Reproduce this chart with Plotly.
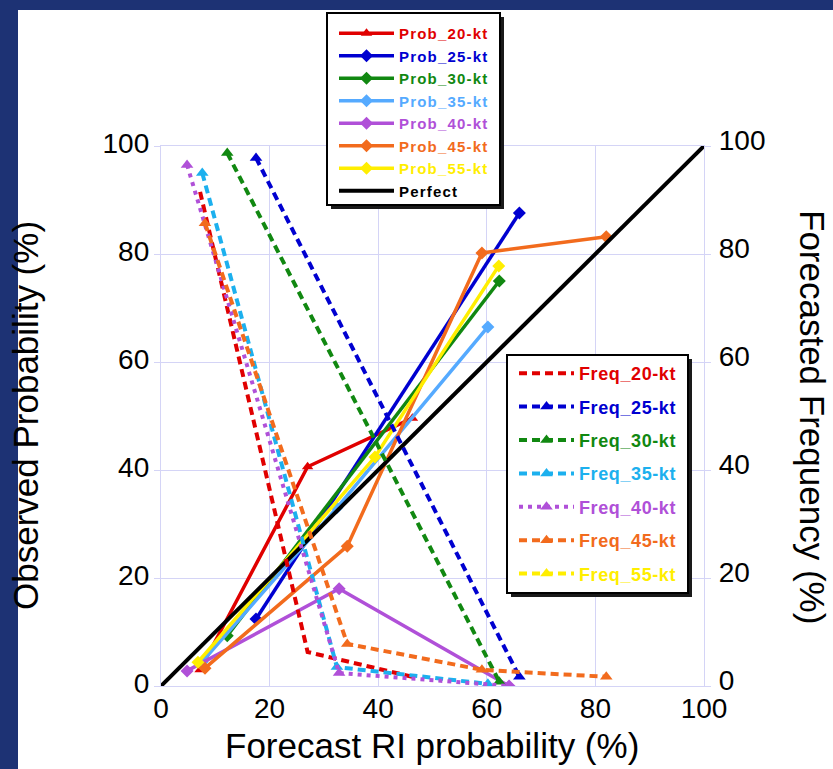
import plotly.graph_objects as go

# ---------------- data ----------------
x20 = [7.2, 27.0, 46.3]
prob20 = [3.0, 40.6, 49.6]
freq20 = [91.5, 6.3, 1.7]

x25 = [17.5, 66.0]
prob25 = [12.4, 87.6]
freq25 = [97.8, 1.7]

x30 = [12.2, 62.3]
prob30 = [9.3, 75.0]
freq30 = [98.7, 0.8]

x35 = [7.6, 32.4, 60.2]
prob35 = [4.5, 33.0, 66.5]
freq35 = [95.0, 3.5, 0.4]

x40 = [4.8, 32.8, 64.1]
prob40 = [2.8, 18.0, 0.0]
freq40 = [96.5, 2.4, 0.0]

x45 = [8.1, 34.3, 59.1, 82.0]
prob45 = [3.3, 25.9, 80.2, 83.2]
freq45 = [85.7, 7.8, 3.0, 1.7]

x55 = [6.8, 39.4, 62.2]
prob55 = [4.4, 42.4, 77.8]
freq55 = []          # not visible in the reference (legend entry only)

perfect_x = [0, 100]
perfect_y = [0, 100]

ticks = [0, 20, 40, 60, 80, 100]
tick_labels = ["0", "20", "40", "60", "80", "100"]

# ---------------- styling ----------------
FONT = "Liberation Sans, Arial, sans-serif"
C = dict(
    r="#e00000", b="#0000d0", g="#118811", lb="#55aaff", lbf="#1cb0ee",
    p="#b050d8", o="#f26b1d", y="#ffee00",
)

W, H = 833, 769
L, R, T, B = 161, 129, 146, 83
PW, PH = W - L - R, H - T - B


def px(xp):
    return (xp - L) / PW


def py(yp):
    return (H - B - yp) / PH


fig = go.Figure()


def lab(text, color, ls):
    return (f"<b><span style='color:{color};letter-spacing:{ls}px'>"
            f"{text}</span></b>")


prob_series = [
    ("Prob_20-kt", x20, prob20, C["r"], "triangle-up"),
    ("Prob_25-kt", x25, prob25, C["b"], "diamond"),
    ("Prob_30-kt", x30, prob30, C["g"], "diamond"),
    ("Prob_35-kt", x35, prob35, C["lb"], "diamond"),
    ("Prob_40-kt", x40, prob40, C["p"], "diamond"),
    ("Prob_45-kt", x45, prob45, C["o"], "diamond"),
    ("Prob_55-kt", x55, prob55, C["y"], "diamond"),
]
for name, xs, ys, col, sym in prob_series:
    fig.add_trace(go.Scatter(
        x=xs, y=ys, mode="lines+markers", name=lab(name, col, 1.2),
        line=dict(color=col, width=3.5),
        marker=dict(symbol=sym, size=10, color=col),
        legend="legend", legendgroup=name,
    ))
fig.add_trace(go.Scatter(
    x=perfect_x, y=perfect_y, mode="lines",
    name=lab("Perfect", "#000000", 1.2),
    line=dict(color="black", width=4), legend="legend", legendgroup="perfect",
))

freq_series = [
    ("Freq_20-kt", x20, freq20, C["r"], "lines", "8px,5px"),
    ("Freq_25-kt", x25, freq25, C["b"], "lines+markers", "8px,5px"),
    ("Freq_30-kt", x30, freq30, C["g"], "lines+markers", "8px,5px"),
    ("Freq_35-kt", x35, freq35, C["lbf"], "lines+markers", "8px,5px"),
    ("Freq_40-kt", x40, freq40, C["p"], "lines+markers", "4px,5px"),
    ("Freq_45-kt", x45, freq45, C["o"], "lines+markers", "8px,5px"),
    ("Freq_55-kt", x55[:len(freq55)], freq55, C["y"], "lines+markers", "8px,5px"),
]
for name, xs, ys, col, mode, dash in freq_series:
    if len(ys) == 0:
        xs, ys = [None], [None]
    fig.add_trace(go.Scatter(
        x=xs, y=ys, mode=mode, name=lab(name, col, 0.6), yaxis="y2",
        line=dict(color=col, width=4, dash=dash),
        marker=dict(symbol="triangle-up", size=11, color=col),
        legend="legend2", legendgroup=name,
    ))

GRID = "#d4d4f6"
TICKFONT = dict(family=FONT, size=28, color="black")
axis_common = dict(
    range=[0, 100], tickvals=ticks, ticktext=tick_labels,
    showgrid=True, gridcolor=GRID, gridwidth=1.3,
    showline=True, linecolor=GRID, linewidth=1.3,
    zeroline=False, tickfont=TICKFONT,
)

fig.update_layout(
    width=W, height=H,
    margin=dict(l=L, r=R, t=T, b=B, pad=0),
    paper_bgcolor="#1d3274", plot_bgcolor="white",
    font=dict(family=FONT, color="black"),
    xaxis=dict(**axis_common, mirror=True, ticks="", ticklabelstandoff=-3),
    yaxis=dict(**axis_common, mirror=True, ticks="outside", ticklen=6,
               tickcolor=GRID, ticklabelstandoff=-1, ticklabelshift=-3),
    yaxis2=dict(range=[0, 100], tickvals=ticks, ticktext=tick_labels,
                overlaying="y", side="right", showgrid=False, zeroline=False,
                showline=True, linecolor=GRID, linewidth=1.3,
                ticks="outside", ticklen=6, tickcolor=GRID,
                tickfont=TICKFONT, ticklabelstandoff=2, ticklabelshift=-6),
    legend=dict(
        x=px(334), y=py(17), xanchor="left", yanchor="top",
        bgcolor="rgba(0,0,0,0)", borderwidth=0,
        font=dict(family=FONT, size=15), itemwidth=55,
        tracegroupgap=0, traceorder="grouped",
    ),
    legend2=dict(
        x=px(514), y=py(355), xanchor="left", yanchor="top",
        bgcolor="rgba(0,0,0,0)", borderwidth=0,
        font=dict(family=FONT, size=18), itemwidth=55,
        tracegroupgap=7, traceorder="grouped",
    ),
    showlegend=True,
)

# white slide background
fig.add_shape(type="rect", xref="paper", yref="paper",
              x0=px(18), x1=px(W + 5), y0=py(H + 5), y1=py(10),
              fillcolor="white", line=dict(width=0), layer="below")
# legend boxes with drop shadows
for (bx0, by0, bx1, by1) in [(327, 13, 500, 205), (507, 355, 688, 593)]:
    fig.add_shape(type="rect", xref="paper", yref="paper",
                  x0=px(bx0 + 4), x1=px(bx1 + 4), y0=py(by1 + 4), y1=py(by0 + 4),
                  fillcolor="#1a1a1a", line=dict(width=0), layer="above")
    fig.add_shape(type="rect", xref="paper", yref="paper",
                  x0=px(bx0), x1=px(bx1), y0=py(by1), y1=py(by0),
                  fillcolor="white", line=dict(color="black", width=2),
                  layer="above")

# axis titles
TITLEFONT = dict(family=FONT, size=35, color="black")
for text, xp, yp, ang in [
    ("Observed Probability (%)", 25, 415, -90),
    ("Forecasted Frequency (%)", 812, 417, 90),
    ("Forecast RI probability (%)", 432, 745, 0),
]:
    fig.add_annotation(text=text, x=px(xp), y=py(yp), xref="paper",
                       yref="paper", showarrow=False, textangle=ang,
                       xanchor="center", yanchor="middle", font=TITLEFONT)

fig.write_html("out.html",
               config={"displayModeBar": False},
               post_script="document.body.style.margin='0';"
                           "document.body.style.background='#1d3274';")
